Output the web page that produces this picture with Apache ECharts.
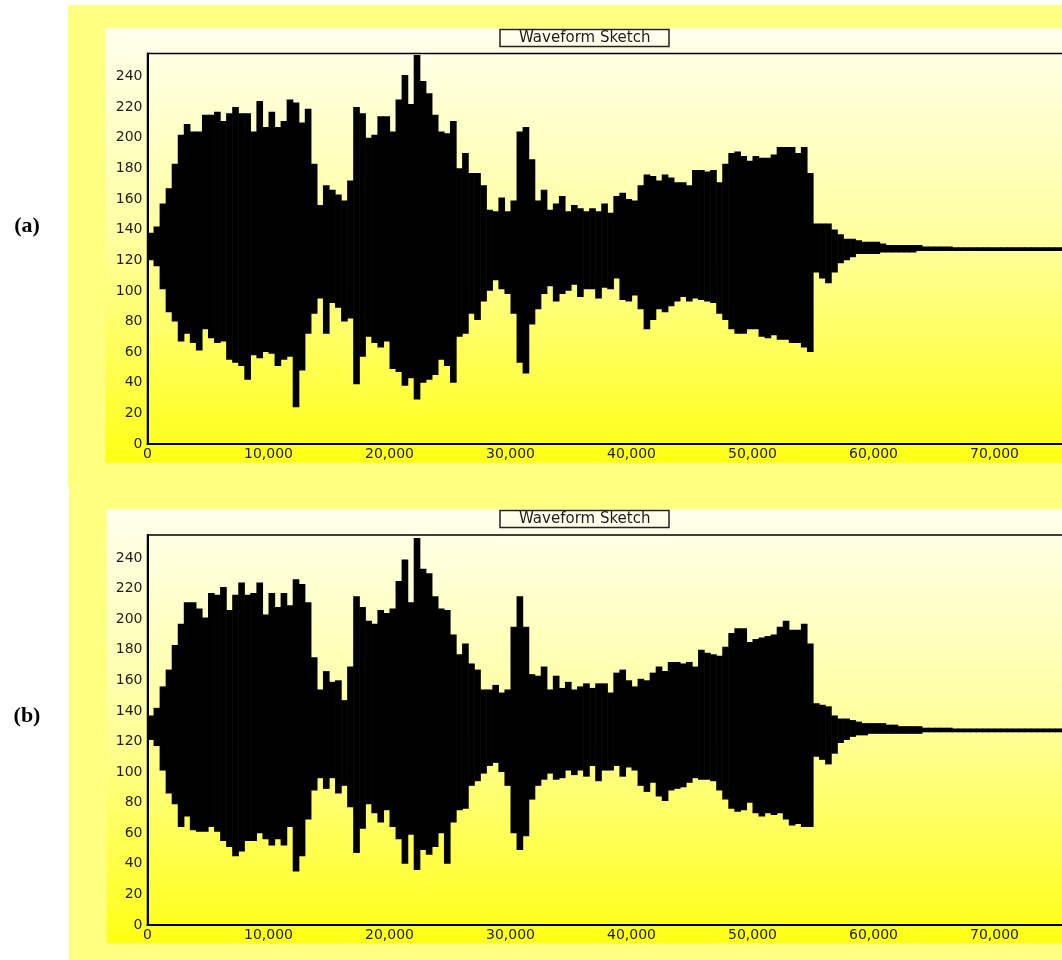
<!DOCTYPE html>
<html>
<head>
<meta charset="utf-8">
<script src="https://cdn.jsdelivr.net/npm/echarts@6/dist/echarts.min.js"></script>
<style>
  html, body { margin: 0; padding: 0; overflow: hidden; background: #ffffff; width: 1062px; height: 960px; }
  #chart { width: 1100px; height: 960px; }
</style>
</head>
<body>
<div id="chart"></div>
<script>
// ---------- data (envelope of the waveform, one value per 500 samples) ----------
const STEP = 500;
const panelLabels = ['(a)', '(b)'];
const chartTitle = 'Waveform Sketch';
const xTickLabels = ['0', '10,000', '20,000', '30,000', '40,000', '50,000', '60,000', '70,000'];
const yTickLabels = ['0', '20', '40', '60', '80', '100', '120', '140', '160', '180', '200', '220', '240'];

const upperA = [
  138,142,157,167,183,202,209,204,204,215,
  215,217,211,216,220,216,216,204,224,207,
  217,207,211,225,223,210,219,183,156,169,
  166,163,159,172,220,216,200,202,214,214,
  204,225,241,222,254,237,229,215,204,203,
  211,180,190,177,177,169,153,152,161,152,
  159,204,207,186,159,166,153,157,162,152,
  156,154,152,154,152,157,151,162,164,160,
  159,169,176,175,172,176,174,171,171,169,
  179,179,178,179,171,183,190,191,188,185,
  188,187,187,189,194,194,194,190,194,177,
  144,144,144,140,137,134,134,133,132,132,
  132,131,130,130,130,130,130,130,129,129,
  129,129,129,128.5,128.5,128.5,128.5,128.5,128.5,128.5,
  128.5,128.5,128.5,128.5,128.5,128.5,128.5,128.5,128.5,128.5,
  128.5,128.5
];
const lowerA = [
  120,116,101,86,80,67,72,66,61,75,
  69,66,67,55,53,51,42,58,56,60,
  59,51,55,57,24,48,72,85,95,72,
  92,89,80,82,39,57,70,66,63,67,
  49,47,38,43,29,40,42,45,55,51,
  40,70,72,85,81,93,100,107,101,98,
  85,53,46,78,88,98,103,93,98,100,
  104,96,101,101,95,102,101,108,94,93,
  97,88,75,81,88,86,90,93,96,93,
  95,94,93,92,85,81,75,72,72,75,
  75,70,69,71,68,68,66,66,63,60,
  112,108,105,112,118,120,122,124,124,124,
  124,125,125,125,125,125,125,126,126,126,
  126,126,126,126,126,126,126,126,126,126,
  126,126,126,126,126,126,126,126,126,126,
  126,126
];
const upperB = [
  137,142,156,167,183,197,211,211,207,201,
  217,216,221,206,216,224,216,217,224,203,
  217,208,217,209,226,223,211,175,154,166,
  159,160,147,169,215,208,199,197,206,204,
  207,225,239,211,253,233,230,215,207,206,
  190,177,184,171,167,154,154,157,152,154,
  195,215,195,164,163,169,154,163,155,159,
  154,156,158,155,158,158,152,165,167,160,
  156,161,160,165,169,166,172,172,171,172,
  169,180,178,177,176,182,191,194,194,185,
  187,188,189,190,195,199,193,193,197,184,
  145,144,143,137,135,135,134,133,132,132,
  132,132,131,131,130,130,130,130,129,129,
  129,129,129,128.5,128.5,128.5,128.5,128.5,128.5,128.5,
  128.5,128.5,128.5,128.5,128.5,128.5,128.5,128.5,128.5,128.5,
  128.5,128.5
];
const lowerB = [
  121,117,101,86,79,64,71,62,61,61,
  64,61,55,51,45,48,55,55,60,56,
  52,56,52,64,35,45,69,88,96,89,
  96,86,91,77,47,63,79,73,67,75,
  64,56,40,59,36,49,46,51,60,40,
  67,75,76,91,94,99,104,106,100,91,
  60,49,58,82,91,95,99,95,96,101,
  98,101,97,104,94,101,101,104,97,103,
  101,91,87,93,84,81,88,89,90,93,
  96,95,95,94,88,82,76,74,75,80,
  73,71,73,72,73,69,65,66,64,64,
  110,108,105,112,119,121,123,124,124,125,
  125,125,125,125,125,125,125,125,126,126,
  126,126,126,126,126,126,126,126,126,126,
  126,126,126,126,126,126,126,126,126,126,
  126,126
];

// ---------- build ----------
function buildData(lo, hi) {
  return lo.map((v, i) => [i * STEP, v, hi[i]]);
}
function renderEnv(params, api) {
  const x = api.value(0), lo = api.value(1), hi = api.value(2);
  const a = api.coord([x, hi]);
  const b = api.coord([x + STEP, lo]);
  return {
    type: 'rect',
    shape: { x: a[0], y: a[1], width: b[0] - a[0] + 0.6, height: b[1] - a[1] },
    style: { fill: '#000000' }
  };
}

const LABEL_FONT = 'DejaVu Sans';
const X_MAX = 78000;
const Y_MAX = 255;
const PLOT_W = 943.8;

function xAxisCfg(gi) {
  return {
    type: 'value', gridIndex: gi, min: 0, max: X_MAX, interval: 10000,
    axisLine: { show: true, onZero: false, lineStyle: { color: '#000', width: 2 } },
    axisTick: { show: false },
    splitLine: { show: false },
    axisLabel: {
      margin: 3, color: '#1c1c1c', fontFamily: LABEL_FONT, fontSize: 14,
      showMaxLabel: false,
      formatter: v => { const k = Math.round(v / 10000); return (v % 10000 === 0 && xTickLabels[k] !== undefined) ? xTickLabels[k] : ''; }
    }
  };
}
function yAxisCfg(gi) {
  return {
    type: 'value', gridIndex: gi, min: 0, max: Y_MAX, interval: 20,
    axisLine: { show: true, onZero: false, lineStyle: { color: '#000', width: 2 } },
    axisTick: { show: false },
    splitLine: { show: false },
    axisLabel: {
      margin: 5, color: '#1c1c1c', fontFamily: LABEL_FONT, fontSize: 14,
      showMaxLabel: false,
      formatter: v => { const k = Math.round(v / 20); return (v % 20 === 0 && yTickLabels[k] !== undefined) ? yTickLabels[k] : ''; }
    }
  };
}
function innerGradient() {
  return new echarts.graphic.LinearGradient(0, 0, 0, 1, [
    { offset: 0, color: '#FFFFEE' },
    { offset: 0.5, color: '#FFFF9C' },
    { offset: 1, color: '#FFFF14' }
  ]);
}
function titleCfg(top) {
  return {
    text: chartTitle, left: 500, top: top,
    padding: [1, 19],
    borderColor: '#222', borderWidth: 1.5,
    textStyle: { fontFamily: LABEL_FONT, fontSize: 15, fontWeight: 'normal', color: '#1c1c1c', lineHeight: 15 }
  };
}

const chart = echarts.init(document.getElementById('chart'), null, { renderer: 'canvas' });
chart.setOption({
  animation: false,
  backgroundColor: '#ffffff',
  title: [titleCfg(29.5), titleCfg(510.5)],
  graphic: [
    { type: 'rect', z: -20, silent: true, shape: { x: 68, y: 5, width: 1100, height: 481 }, style: { fill: '#FFFF80' } },
    { type: 'rect', z: -20, silent: true, shape: { x: 69, y: 486, width: 1100, height: 474 }, style: { fill: '#FFFF80' } },
    { type: 'rect', z: -19, silent: true, shape: { x: 105.5, y: 28.3, width: 1100, height: 434.4 }, style: { fill: innerGradient() } },
    { type: 'rect', z: -19, silent: true, shape: { x: 106.7, y: 509.3, width: 1100, height: 434 }, style: { fill: innerGradient() } },
    { type: 'text', silent: true, x: 27, y: 226, style: { text: panelLabels[0], fill: '#000', font: 'bold 22px "Liberation Serif"', align: 'center', verticalAlign: 'middle' } },
    { type: 'text', silent: true, x: 27, y: 716, style: { text: panelLabels[1], fill: '#000', font: 'bold 22px "Liberation Serif"', align: 'center', verticalAlign: 'middle' } }
  ],
  grid: [
    { left: 147.5, top: 53.5, width: PLOT_W, height: 390.5, show: true, borderColor: '#000', borderWidth: 1.5, backgroundColor: 'transparent' },
    { left: 147.5, top: 535, width: PLOT_W, height: 390, show: true, borderColor: '#000', borderWidth: 1.5, backgroundColor: 'transparent' }
  ],
  xAxis: [xAxisCfg(0), xAxisCfg(1)],
  yAxis: [yAxisCfg(0), yAxisCfg(1)],
  series: [
    { type: 'custom', name: 'a', xAxisIndex: 0, yAxisIndex: 0, renderItem: renderEnv, data: buildData(lowerA, upperA), encode: { x: 0, y: [1, 2] }, clip: true, silent: true },
    { type: 'custom', name: 'b', xAxisIndex: 1, yAxisIndex: 1, renderItem: renderEnv, data: buildData(lowerB, upperB), encode: { x: 0, y: [1, 2] }, clip: true, silent: true }
  ]
});
</script>
</body>
</html>
